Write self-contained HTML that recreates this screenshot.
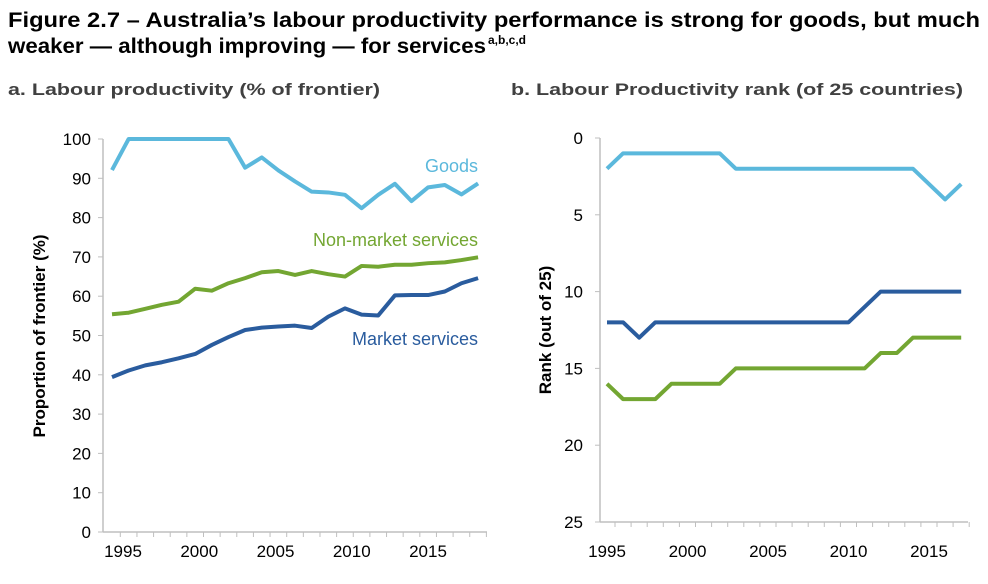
<!DOCTYPE html>
<html><head><meta charset="utf-8"><style>
body{margin:0;background:#fff;font-family:"Liberation Sans",Arial,sans-serif;}
svg text{font-family:"Liberation Sans",Arial,sans-serif;}
</style></head><body>
<svg id="c" width="988" height="579" xmlns="http://www.w3.org/2000/svg">
<text x="8" y="27" font-size="21" font-weight="bold" fill="#000" textLength="972" lengthAdjust="spacingAndGlyphs">Figure 2.7 – Australia’s labour productivity performance is strong for goods, but much</text>
<text x="8" y="53" font-size="21" font-weight="bold" fill="#000" textLength="478" lengthAdjust="spacingAndGlyphs">weaker — although improving — for services</text>
<text x="488" y="44" font-size="12" font-weight="bold" fill="#000">a,b,c,d</text>
<text x="8" y="95" font-size="17" font-weight="bold" fill="#404040" textLength="372" lengthAdjust="spacingAndGlyphs">a. Labour productivity (% of frontier)</text>
<text x="511" y="95" font-size="17" font-weight="bold" fill="#404040" textLength="452" lengthAdjust="spacingAndGlyphs">b. Labour Productivity rank (of 25 countries)</text>
<g id="L"></g><g id="R"></g>
</svg>
<script>
const years=[1995,1996,1997,1998,1999,2000,2001,2002,2003,2004,2005,2006,2007,2008,2009,2010,2011,2012,2013,2014,2015,2016,2017];
const goodsPct=[92.1,100,100,100,100,100,100,100,92.7,95.3,92,89.2,86.6,86.4,85.8,82.4,85.8,88.6,84.2,87.7,88.3,85.9,88.7];
const nonMarketPct=[55.4,55.8,56.8,57.8,58.6,61.9,61.4,63.3,64.6,66.1,66.4,65.4,66.4,65.6,65,67.7,67.5,68,68,68.4,68.6,69.2,69.9];
const marketPct=[39.4,41.1,42.4,43.2,44.2,45.3,47.6,49.6,51.4,52,52.3,52.5,51.9,54.8,56.9,55.3,55.1,60.2,60.3,60.3,61.2,63.3,64.6];
const goodsRank=[2,1,1,1,1,1,1,1,2,2,2,2,2,2,2,2,2,2,2,2,3,4,3];
const marketRank=[12,12,13,12,12,12,12,12,12,12,12,12,12,12,12,12,11,10,10,10,10,10,10];
const nonMarketRank=[16,17,17,17,16,16,16,16,15,15,15,15,15,15,15,15,15,14,14,13,13,13,13];
const leftTicks=[0,10,20,30,40,50,60,70,80,90,100];
const rightTicks=[0,5,10,15,20,25];
const xLabels=[1995,2000,2005,2010,2015];
const C={g:"#5bb8dc",n:"#73a632",m:"#2a5c9e"};
const NS="http://www.w3.org/2000/svg";
function mk(p,t,a,txt){const e=document.createElementNS(NS,t);for(const k in a)e.setAttribute(k,a[k]);if(txt!=null)e.textContent=txt;p.appendChild(e);return e;}
// Left
const L=document.getElementById('L');
const lx=y=>112+(y-1995)*16.64, ly=v=>532-v*3.93, llab=y=>123+(y-1995)*15.25;
let a=mk(L,'line',{x1:103,y1:139,x2:103,y2:532,stroke:'#bfbfbf','stroke-width':1.5});

a=mk(L,'line',{x1:103,y1:532,x2:487,y2:532,stroke:'#bfbfbf','stroke-width':1.5});

leftTicks.forEach(t=>{mk(L,'line',{x1:98,x2:103,y1:ly(t),y2:ly(t),stroke:'#bfbfbf'});
 const e=mk(L,'text',{x:91,y:ly(t)+6,'font-size':17,'text-anchor':'end',fill:'#000'},t);
 });
years.forEach(y=>{const x=lx(y)+8.3;mk(L,'line',{x1:x,x2:x,y1:532,y2:537,stroke:'#bfbfbf'});});
xLabels.forEach(y=>{const e=mk(L,'text',{x:llab(y),y:557,'font-size':17,'text-anchor':'middle',fill:'#000'},y);
 });
let t=mk(L,'text',{x:0,y:0,'font-size':17,'font-weight':'bold','text-anchor':'middle',transform:'translate(45,336) rotate(-90)'},'Proportion of frontier (%)');

[[goodsPct,C.g,'goods-line'],[nonMarketPct,C.n,'non-market-line'],[marketPct,C.m,'market-line']].forEach(([d,c,n])=>{
 const p=mk(L,'polyline',{points:d.map((v,i)=>lx(years[i])+','+ly(v)).join(' '),fill:'none',stroke:c,'stroke-width':4,'stroke-linejoin':'round'});
 });
t=mk(L,'text',{x:478,y:172,'font-size':18,'text-anchor':'end',fill:C.g},'Goods');
t=mk(L,'text',{x:478,y:246,'font-size':18,'text-anchor':'end',fill:C.n},'Non-market services');
t=mk(L,'text',{x:478,y:345,'font-size':18,'text-anchor':'end',fill:C.m},'Market services');
// Right
const R=document.getElementById('R');
const rx=y=>607+(y-1995)*16.1, ry=v=>138+v*15.36;
a=mk(R,'line',{x1:600,y1:138,x2:600,y2:522,stroke:'#bfbfbf','stroke-width':1.5});

a=mk(R,'line',{x1:600,y1:522,x2:968,y2:522,stroke:'#bfbfbf','stroke-width':1.5});

rightTicks.forEach(v=>{mk(R,'line',{x1:595,x2:600,y1:ry(v),y2:ry(v),stroke:'#bfbfbf'});
 const e=mk(R,'text',{x:583,y:ry(v)+6,'font-size':17,'text-anchor':'end',fill:'#000'},v);
 });
years.forEach(y=>{const x=rx(y)+8;mk(R,'line',{x1:x,x2:x,y1:522,y2:527,stroke:'#bfbfbf'});});
xLabels.forEach(y=>{const e=mk(R,'text',{x:rx(y),y:557,'font-size':17,'text-anchor':'middle',fill:'#000'},y);
 });
t=mk(R,'text',{x:0,y:0,'font-size':17,'font-weight':'bold','text-anchor':'middle',transform:'translate(551,330) rotate(-90)'},'Rank (out of 25)');

[[goodsRank,C.g,'goods-rank-line'],[nonMarketRank,C.n,'non-market-rank-line'],[marketRank,C.m,'market-rank-line']].forEach(([d,c,n])=>{
 const p=mk(R,'polyline',{points:d.map((v,i)=>rx(years[i])+','+ry(v)).join(' '),fill:'none',stroke:c,'stroke-width':4,'stroke-linejoin':'round'});
 });
</script>
</body></html>
